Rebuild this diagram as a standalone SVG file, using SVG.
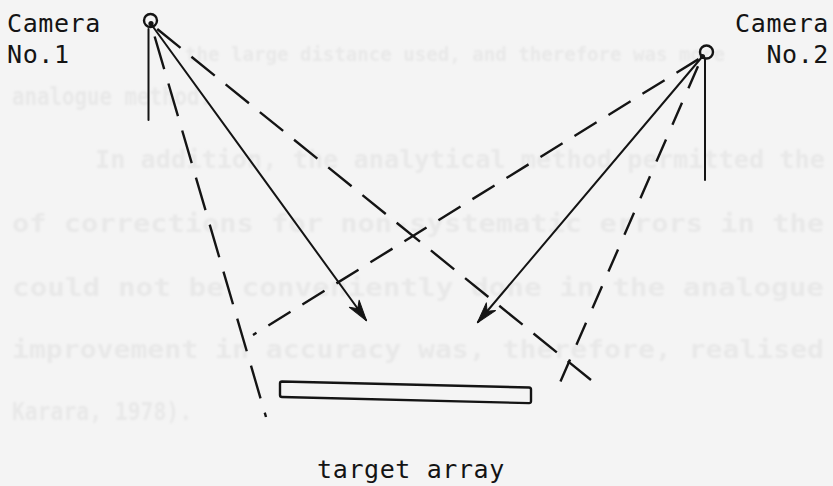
<svg xmlns="http://www.w3.org/2000/svg" width="833" height="486" viewBox="0 0 833 486">
<style>
.lbl{font-family:"DejaVu Sans Mono","Liberation Mono",monospace;font-size:25px;fill:#141414;letter-spacing:0.6px}
.ghost{font-family:"DejaVu Sans Mono","Liberation Mono",monospace;font-size:25px;font-weight:bold;fill:#e8e8e8}
.solid{stroke:#141414;stroke-width:2;fill:none;stroke-linecap:round}
.dash{stroke:#141414;stroke-width:2.4;fill:none;stroke-dasharray:30 14;stroke-dashoffset:36}
.cam{fill:none;stroke:#141414;stroke-width:2.4}
</style>
<defs>
<marker id="arr" markerUnits="userSpaceOnUse" markerWidth="26" markerHeight="16" viewBox="-22 -8 24 16" refX="0" refY="0" orient="auto">
<path d="M1,0 L-20,-6 L-14,0 L-20,6 Z" fill="#141414" stroke="#141414" stroke-width="1" stroke-linejoin="round"/>
</marker>
<filter id="soft" x="-5%" y="-50%" width="110%" height="200%">
<feGaussianBlur stdDeviation="0.9"/>
</filter>
</defs>
<rect width="833" height="486" fill="#f4f4f4"/>
<g id="ghost-text" filter="url(#soft)">
<text class="ghost" x="185" y="61" style="font-size:20px" textLength="540" lengthAdjust="spacingAndGlyphs">the large distance used, and therefore was more</text>
<text class="ghost" x="12" y="105" textLength="200" lengthAdjust="spacingAndGlyphs">analogue method.</text>
<text class="ghost" x="95" y="168" textLength="730" lengthAdjust="spacingAndGlyphs">In addition, the analytical method permitted the</text>
<text class="ghost" x="12" y="232" textLength="812" lengthAdjust="spacingAndGlyphs">of corrections for non-systematic errors in the</text>
<text class="ghost" x="12" y="296" textLength="812" lengthAdjust="spacingAndGlyphs">could not be conveniently done in the analogue</text>
<text class="ghost" x="12" y="358" textLength="812" lengthAdjust="spacingAndGlyphs">improvement in accuracy was, therefore, realised</text>
<text class="ghost" x="12" y="420" textLength="180" lengthAdjust="spacingAndGlyphs">Karara, 1978).</text>
</g>
<g id="connectors">
<line class="solid" x1="148.5" y1="29" x2="148.5" y2="120"/>
<line class="dash" x1="151" y1="24" x2="266" y2="417" style="stroke-dasharray:34 15"/>
<line class="solid" x1="151" y1="24" x2="366" y2="320" marker-end="url(#arr)"/>
<line class="dash" x1="151" y1="24" x2="591" y2="380"/>
<line class="solid" x1="705" y1="59" x2="705" y2="180"/>
<line class="solid" x1="702" y1="57" x2="478" y2="322" marker-end="url(#arr)"/>
<line class="dash" x1="702" y1="57" x2="253" y2="335" style="stroke-dasharray:26 14"/>
<line class="dash" x1="702" y1="57" x2="555" y2="394" style="stroke-dasharray:24 16;stroke-dashoffset:30"/>
</g>
<g id="camera1">
<circle class="cam" cx="150.5" cy="20.5" r="6.5"/>
<circle cx="151" cy="23.5" r="2.6" fill="#141414"/>
<text class="lbl" x="7" y="32">Camera</text>
<text class="lbl" x="7" y="63">No.1</text>
</g>
<g id="camera2">
<circle class="cam" cx="706.5" cy="52" r="6.5"/>
<circle cx="702.5" cy="56.5" r="2.6" fill="#141414"/>
<text class="lbl" x="829" y="32" text-anchor="end">Camera</text>
<text class="lbl" x="829" y="63" text-anchor="end">No.2</text>
</g>
<g id="target">
<path d="M282,381.5 L529,387.5 Q531,387.6 531,389.5 L531,401.2 Q531,403.2 529,403.1 L282,397 Q280,397 280,395 L280,383.5 Q280,381.5 282,381.5 Z" fill="none" stroke="#141414" stroke-width="2.4"/>
<text class="lbl" x="411" y="478" text-anchor="middle">target array</text>
</g>
</svg>
